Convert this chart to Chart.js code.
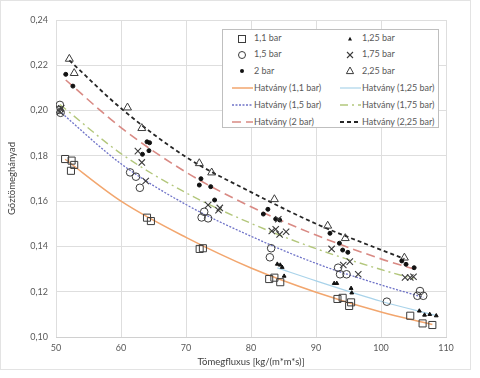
<!DOCTYPE html>
<html>
<head>
<meta charset="utf-8">
<script src="https://cdn.jsdelivr.net/npm/chart.js@4/dist/chart.umd.min.js"></script>
<style>
  html,body{margin:0;padding:0;background:#fff;}
  #wrap{position:relative;width:480px;height:378px;overflow:hidden;}
  #c{position:absolute;left:0;top:0;}
  #frame{position:absolute;left:0;top:0;width:469px;height:368px;border:1px solid #e3e3e3;box-sizing:content-box;pointer-events:none;}
  #legend{position:absolute;left:222px;top:29px;width:217px;height:99px;border:1px solid #bfbfbf;background:#fff;box-sizing:border-box;}
  .li{position:absolute;font-family:Lato,"Open Sans",sans-serif;font-size:9px;color:#595959;white-space:nowrap;line-height:10px;}
  .sym{position:absolute;}
</style>
</head>
<body>
<div id="wrap">
  <canvas id="c" width="480" height="378"></canvas>
  <div id="frame"></div>
  <div id="legend"></div>
</div>
<script>
// ---------- DATA ----------
const xTickLabels = ['50','60','70','80','90','100','110'];
const yTickLabels = ['0,10','0,12','0,14','0,16','0,18','0,20','0,22','0,24'];
const seriesNames = ['1,1 bar','1,25 bar','1,5 bar','1,75 bar','2 bar','2,25 bar'];

// measured points: x = Tömegfluxus, y = Gőztömeghányad
const x11 = [51.4,52.4,52.8,52.3,64.0,64.6,72.1,72.6,82.8,83.6,84.5,93.3,94.1,95.4,95.1,104.5,106.4,107.9];
const y11 = [0.1786,0.1779,0.1760,0.1734,0.1527,0.1512,0.1389,0.1392,0.1256,0.1262,0.1242,0.1168,0.1173,0.1153,0.1137,0.1094,0.1060,0.1053];

const x125 = [84.05,84.5,84.8,85.1,92.8,93.2,95.4,95.5,105.9,106.7,107.5,108.5];
const y125 = [0.1322,0.1318,0.1308,0.1269,0.1237,0.1237,0.1215,0.1195,0.1115,0.1097,0.1100,0.1094];

const x15 = [50.6,50.5,50.7,61.4,62.3,62.9,72.8,72.4,73.4,83.1,82.9,93.4,93.7,94.7,100.9,106.0,105.6,106.5];
const y15 = [0.2025,0.2003,0.1990,0.1727,0.1708,0.1659,0.1553,0.1528,0.1524,0.1392,0.1352,0.1306,0.1277,0.1277,0.1156,0.1203,0.1182,0.1182];

const x175 = [50.8,50.6,62.6,63.2,63.8,73.4,75.2,75.0,84.2,83.2,83.8,84.4,85.4,92.4,94.2,95.2,96.5,103.7,104.5,105.0];
const y175 = [0.2010,0.1995,0.1821,0.1771,0.1689,0.1583,0.1570,0.1560,0.1520,0.1468,0.1476,0.1453,0.1465,0.1389,0.1318,0.1333,0.1277,0.1263,0.1263,0.1266];

const x2 = [51.5,52.6,64.0,64.4,64.3,63.3,72.3,72.05,73.8,74.4,82.6,81.9,83.8,84.4,92.15,93.6,94.1,94.9,103.2,103.85,105.1];
const y2 = [0.2160,0.2108,0.1862,0.1858,0.1823,0.1807,0.1699,0.1671,0.1664,0.1605,0.1564,0.1543,0.1521,0.1517,0.1458,0.1414,0.1384,0.1374,0.1336,0.1321,0.1306];

const x225 = [52.05,52.8,61.0,63.2,72.05,73.95,83.6,91.8,94.5,103.6];
const y225 = [0.2228,0.2165,0.2013,0.1922,0.1767,0.1726,0.1608,0.1491,0.1436,0.1350];

// power trendlines ("Hatvány")
const tx11 = [51.4,60,70,80,90,100,107.9];
const ty11 = [0.1785,0.1600,0.1440,0.1305,0.1198,0.1110,0.1055];
const tx125 = [84.05,90,100,108.5];
const ty125 = [0.1305,0.1248,0.1158,0.1095];
const tx15 = [50.5,60,70,80,90,100,106.5];
const ty15 = [0.1998,0.1765,0.1585,0.1445,0.1325,0.1230,0.1175];
const tx175 = [50.6,60,70,80,90,100,105.0];
const ty175 = [0.2027,0.1810,0.1637,0.1502,0.1390,0.1298,0.1257];
const tx2 = [51.5,60,70,80,90,100,105.1];
const ty2 = [0.2135,0.1925,0.1728,0.1575,0.1450,0.1345,0.1300];
const tx225 = [52.05,60,70,80,90,100,103.6];
const ty225 = [0.2222,0.2010,0.1795,0.1640,0.1500,0.1385,0.1345];

// ---------- build ----------
const pts = (xs, ys) => xs.map((x, i) => ({x: x, y: ys[i]}));
const MK = '#3c3c3c';
const none = 'rgba(0,0,0,0)';

const markerStyles = [
  {pointStyle:'rect', pointRadius:5, borderColor:MK, backgroundColor:none, borderWidth:1},
  {pointStyle:'triangle', pointRadius:2.2, borderColor:'#111', backgroundColor:'#111', borderWidth:1},
  {pointStyle:'circle', pointRadius:3.8, borderColor:MK, backgroundColor:none, borderWidth:1},
  {pointStyle:'crossRot', pointRadius:4.5, borderColor:MK, backgroundColor:none, borderWidth:1.1},
  {pointStyle:'circle', pointRadius:2, borderColor:'#111', backgroundColor:'#111', borderWidth:1},
  {pointStyle:'triangle', pointRadius:4.6, borderColor:MK, backgroundColor:none, borderWidth:1}
];
const lineStyles = [
  {color:'#F2A66E', dash:[], width:1.5},
  {color:'#A9D3EA', dash:[], width:1.2},
  {color:'#6F73C8', dash:[2,1.5], width:1.3},
  {color:'#B3C77C', dash:[8,4,2,4], width:1.4},
  {color:'#D98A84', dash:[9,5], width:1.6},
  {color:'#262626', dash:[4,3], width:1.8}
];
const scatterData = [pts(x11,y11),pts(x125,y125),pts(x15,y15),pts(x175,y175),pts(x2,y2),pts(x225,y225)];
const trendData = [pts(tx11,ty11),pts(tx125,ty125),pts(tx15,ty15),pts(tx175,ty175),pts(tx2,ty2),pts(tx225,ty225)];

const datasets = [];
scatterData.forEach((d, i) => {
  datasets.push(Object.assign({label: seriesNames[i], data: d, showLine:false, order:1}, markerStyles[i]));
});
trendData.forEach((d, i) => {
  const s = lineStyles[i];
  datasets.push({label: 'Hatvány (' + seriesNames[i] + ')', data: d, showLine: true, pointRadius: 0,
    borderColor: s.color, backgroundColor: s.color, borderDash: s.dash, borderWidth: s.width,
    cubicInterpolationMode: 'monotone', fill: false, order: 2});
});

const FONT = 'Lato, "Open Sans", sans-serif';
const GRID = '#dedede';
new Chart(document.getElementById('c'), {
  type: 'scatter',
  data: {datasets},
  options: {
    responsive: false,
    animation: false,
    events: [],
    layout: {padding: {left: 0, top: 20, right: 34, bottom: 0}},
    plugins: {legend: {display: false}, tooltip: {enabled: false}},
    scales: {
      x: {
        type: 'linear', min: 50, max: 110,
        afterBuildTicks: s => { s.ticks = xTickLabels.map(t => ({value: parseFloat(t)})); },
        afterFit: s => { s.height = 41; },
        ticks: {callback: (v, i) => xTickLabels[i], color: '#595959', font: {family: FONT, size: 9}, padding: 6, maxRotation: 0},
        grid: {color: GRID, lineWidth: 1, drawTicks: false},
        border: {color: '#d0d0d0'},
        title: {display: true, text: 'Tömegfluxus [kg/(m*m*s)]', color: '#404040', font: {family: FONT, size: 9.5}, padding: {top: 0, bottom: 10}}
      },
      y: {
        type: 'linear', min: 0.10, max: 0.24,
        afterBuildTicks: s => { s.ticks = yTickLabels.map(t => ({value: parseFloat(t.replace(',', '.'))})); },
        afterFit: s => { s.width = 56; },
        ticks: {callback: (v, i) => yTickLabels[i], color: '#595959', font: {family: FONT, size: 9}, padding: 8},
        grid: {color: GRID, lineWidth: 1, drawTicks: false},
        border: {display: false},
        title: {display: true, text: 'Gőztömeghányad', color: '#404040', font: {family: FONT, size: 9.5}, padding: {top: 6, bottom: 0}}
      }
    }
  }
});

// ---------- legend (HTML, 2 columns, row-major) ----------
const NS = 'http://www.w3.org/2000/svg';
const leg = document.getElementById('legend');
const rowY = [8.5, 24.5, 41, 58, 75, 92];
const colSym = [18.5, 126.5];
const colTxt = [31, 139];
function svgEl(tag, attrs) { const e = document.createElementNS(NS, tag); for (const k in attrs) e.setAttribute(k, attrs[k]); return e; }
function addItem(k, text, kind, idx) {
  const row = Math.floor(k / 2), col = k % 2;
  const cy = rowY[row];
  const svg = svgEl('svg', {width: 24, height: 12});
  svg.setAttribute('class', 'sym');
  svg.style.left = (colSym[col] - 12) + 'px';
  svg.style.top = (cy - 6) + 'px';
  if (kind === 'marker') {
    const m = markerStyles[idx];
    const c = 12, r = 6;
    if (idx === 0) svg.appendChild(svgEl('rect', {x: c - 3.5, y: r - 3.5, width: 7, height: 7, fill: 'none', stroke: MK, 'stroke-width': 1}));
    if (idx === 1) svg.appendChild(svgEl('polygon', {points: `${c},${r-2.3} ${c+2},${r+1.5} ${c-2},${r+1.5}`, fill: '#111'}));
    if (idx === 2) svg.appendChild(svgEl('circle', {cx: c, cy: r, r: 3.5, fill: 'none', stroke: MK, 'stroke-width': 1}));
    if (idx === 3) { svg.appendChild(svgEl('line', {x1: c-3, y1: r-3, x2: c+3, y2: r+3, stroke: MK, 'stroke-width': 1.1})); svg.appendChild(svgEl('line', {x1: c-3, y1: r+3, x2: c+3, y2: r-3, stroke: MK, 'stroke-width': 1.1})); }
    if (idx === 4) svg.appendChild(svgEl('circle', {cx: c, cy: r, r: 2, fill: '#111'}));
    if (idx === 5) svg.appendChild(svgEl('polygon', {points: `${c},${r-4} ${c+3.6},${r+2.6} ${c-3.6},${r+2.6}`, fill: 'none', stroke: MK, 'stroke-width': 1}));
  } else {
    const s = lineStyles[idx];
    svg.appendChild(svgEl('line', {x1: 2, y1: 6, x2: 23, y2: 6, stroke: s.color, 'stroke-width': s.width, 'stroke-dasharray': s.dash.length ? s.dash.join(' ') : 'none'}));
  }
  leg.appendChild(svg);
  const t = document.createElement('div');
  t.className = 'li';
  t.textContent = text;
  t.style.left = colTxt[col] + 'px';
  t.style.top = (cy - 5.5) + 'px';
  leg.appendChild(t);
}
seriesNames.forEach((n, i) => addItem(i, n, 'marker', i));
seriesNames.forEach((n, i) => addItem(6 + i, 'Hatvány (' + n + ')', 'line', i));
</script>
</body>
</html>
